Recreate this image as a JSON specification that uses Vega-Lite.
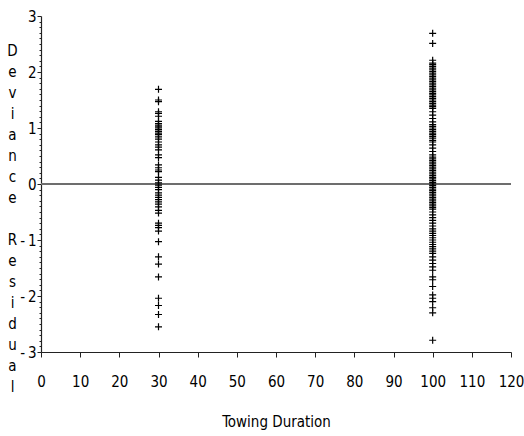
{
  "$schema": "https://vega.github.io/schema/vega-lite/v6.json",
  "autosize": {"type": "none"},
  "padding": {"left": 41, "top": 16, "right": 13, "bottom": 84},
  "width": 470,
  "height": 336,
  "background": "white",
  "config": {
    "view": {"stroke": null},
    "font": "Liberation Sans Narrow, DejaVu Sans Condensed, Liberation Mono",
    "axis": {"labelFont": "Liberation Sans Narrow, DejaVu Sans Condensed, Liberation Mono", "titleFont": "Liberation Sans Narrow, DejaVu Sans Condensed, Liberation Mono", "labelFontSize": 15, "titleFontSize": 15, "labelColor": "#000", "titleColor": "#000", "titleFontWeight": "normal", "domainColor": "#222", "tickColor": "#222", "grid": false},
    "axisY": {"labelOverlap": false}
  },
  "data": {"values": [
    {"d":30,"r":1.69},{"d":30,"r":1.50},{"d":30,"r":1.47},{"d":30,"r":1.29},{"d":30,"r":1.26},{"d":30,"r":1.21},
    {"d":30,"r":1.12},{"d":30,"r":1.08},{"d":30,"r":1.05},{"d":30,"r":1.02},{"d":30,"r":1.00},{"d":30,"r":0.97},
    {"d":30,"r":0.94},{"d":30,"r":0.91},{"d":30,"r":0.88},{"d":30,"r":0.84},{"d":30,"r":0.80},{"d":30,"r":0.75},
    {"d":30,"r":0.70},{"d":30,"r":0.66},{"d":30,"r":0.61},{"d":30,"r":0.52},{"d":30,"r":0.47},{"d":30,"r":0.34},
    {"d":30,"r":0.29},{"d":30,"r":0.25},{"d":30,"r":0.22},{"d":30,"r":0.12},{"d":30,"r":0.07},{"d":30,"r":0.02},
    {"d":30,"r":-0.02},{"d":30,"r":-0.06},{"d":30,"r":-0.10},{"d":30,"r":-0.16},{"d":30,"r":-0.20},{"d":30,"r":-0.24},
    {"d":30,"r":-0.28},{"d":30,"r":-0.32},{"d":30,"r":-0.36},{"d":30,"r":-0.41},{"d":30,"r":-0.47},{"d":30,"r":-0.52},
    {"d":30,"r":-0.70},{"d":30,"r":-0.74},{"d":30,"r":-0.78},{"d":30,"r":-0.84},{"d":30,"r":-1.03},{"d":30,"r":-1.30},
    {"d":30,"r":-1.43},{"d":30,"r":-1.66},{"d":30,"r":-2.04},{"d":30,"r":-2.17},{"d":30,"r":-2.33},{"d":30,"r":-2.55},
    {"d":100,"r":2.69},{"d":100,"r":2.51},{"d":100,"r":2.21},{"d":100,"r":2.16},{"d":100,"r":2.13},{"d":100,"r":2.10},
    {"d":100,"r":2.07},{"d":100,"r":2.04},{"d":100,"r":2.01},{"d":100,"r":1.98},{"d":100,"r":1.95},{"d":100,"r":1.92},
    {"d":100,"r":1.89},{"d":100,"r":1.86},{"d":100,"r":1.83},{"d":100,"r":1.80},{"d":100,"r":1.77},{"d":100,"r":1.74},
    {"d":100,"r":1.71},{"d":100,"r":1.68},{"d":100,"r":1.65},{"d":100,"r":1.62},{"d":100,"r":1.59},{"d":100,"r":1.56},
    {"d":100,"r":1.53},{"d":100,"r":1.50},{"d":100,"r":1.47},{"d":100,"r":1.44},{"d":100,"r":1.41},{"d":100,"r":1.38},
    {"d":100,"r":1.35},{"d":100,"r":1.29},{"d":100,"r":1.23},{"d":100,"r":1.17},{"d":100,"r":1.11},{"d":100,"r":1.06},
    {"d":100,"r":1.03},{"d":100,"r":1.00},{"d":100,"r":0.97},{"d":100,"r":0.94},{"d":100,"r":0.91},{"d":100,"r":0.88},
    {"d":100,"r":0.85},{"d":100,"r":0.82},{"d":100,"r":0.78},{"d":100,"r":0.75},{"d":100,"r":0.70},{"d":100,"r":0.64},
    {"d":100,"r":0.58},{"d":100,"r":0.52},{"d":100,"r":0.48},{"d":100,"r":0.45},{"d":100,"r":0.42},{"d":100,"r":0.39},
    {"d":100,"r":0.36},{"d":100,"r":0.33},{"d":100,"r":0.30},{"d":100,"r":0.27},{"d":100,"r":0.24},{"d":100,"r":0.21},
    {"d":100,"r":0.18},{"d":100,"r":0.15},{"d":100,"r":0.12},{"d":100,"r":0.09},{"d":100,"r":0.06},{"d":100,"r":0.03},
    {"d":100,"r":0.00},{"d":100,"r":-0.03},{"d":100,"r":-0.06},{"d":100,"r":-0.09},{"d":100,"r":-0.12},{"d":100,"r":-0.15},
    {"d":100,"r":-0.18},{"d":100,"r":-0.21},{"d":100,"r":-0.24},{"d":100,"r":-0.27},{"d":100,"r":-0.30},{"d":100,"r":-0.33},
    {"d":100,"r":-0.36},{"d":100,"r":-0.39},{"d":100,"r":-0.42},{"d":100,"r":-0.45},{"d":100,"r":-0.50},{"d":100,"r":-0.55},
    {"d":100,"r":-0.60},{"d":100,"r":-0.65},{"d":100,"r":-0.70},{"d":100,"r":-0.75},{"d":100,"r":-0.80},{"d":100,"r":-0.84},
    {"d":100,"r":-0.88},{"d":100,"r":-0.92},{"d":100,"r":-0.96},{"d":100,"r":-1.00},{"d":100,"r":-1.04},{"d":100,"r":-1.08},
    {"d":100,"r":-1.12},{"d":100,"r":-1.16},{"d":100,"r":-1.20},{"d":100,"r":-1.24},{"d":100,"r":-1.30},{"d":100,"r":-1.36},
    {"d":100,"r":-1.42},{"d":100,"r":-1.48},{"d":100,"r":-1.54},{"d":100,"r":-1.66},{"d":100,"r":-1.71},{"d":100,"r":-1.83},
    {"d":100,"r":-1.98},{"d":100,"r":-2.04},{"d":100,"r":-2.10},{"d":100,"r":-2.21},{"d":100,"r":-2.30},{"d":100,"r":-2.79}
  ]},
  "layer": [
    {
      "mark": {"type": "rule", "color": "#6e6e6e", "strokeWidth": 1.5},
      "encoding": {"y": {"datum": 0, "type": "quantitative", "scale": {"domain": [-3, 3], "nice": false, "zero": false},
          "axis": {
            "values": [-3,-2.9,-2.8,-2.7,-2.6,-2.5,-2.4,-2.3,-2.2,-2.1,-2,-1.9,-1.8,-1.7,-1.6,-1.5,-1.4,-1.3,-1.2,-1.1,-1,-0.9,-0.8,-0.7,-0.6,-0.5,-0.4,-0.3,-0.2,-0.1,0,0.1,0.2,0.3,0.4,0.5,0.6,0.7,0.8,0.9,1,1.1,1.2,1.3,1.4,1.5,1.6,1.7,1.8,1.9,2,2.1,2.2,2.3,2.4,2.5,2.6,2.7,2.8,2.9,3],
            "labelExpr": "abs(datum.value - round(datum.value)) < 0.001 ? (datum.value < 0 ? '-\u2009' + abs(round(datum.value)) : '' + round(datum.value)) : ''",
            "labelOverlap": false,
            "labelPadding": 1,
            "labelBaseline": "middle",
            "tickSize": {"condition": {"test": "abs(datum.value - round(datum.value)) < 0.001", "value": 4}, "value": 2},
            "domainWidth": 1.2,
            "title": ["D","e","v","i","a","n","c","e","\u2800","R","e","s","i","d","u","a","l"],
            "titleAngle": 0,
            "titleAlign": "center",
            "titleBaseline": "middle",
            "titleLineHeight": 21,
            "titleX": -29,
            "titleY": 34
          }}}
    },
    {
      "mark": {"type": "point", "shape": "M-1,0H1M0,-1V1", "filled": false, "stroke": "#000", "strokeWidth": 1.2, "size": 49, "opacity": 1},
      "encoding": {
        "x": {"field": "d", "type": "quantitative", "scale": {"domain": [0, 120], "nice": false},
          "axis": {"values": [0,10,20,30,40,50,60,70,80,90,100,110,120], "tickSize": 5, "labelPadding": 17, "labelFlush": false, "labelOverlap": false, "title": "Towing Duration", "titlePadding": 25, "domainWidth": 1.2}},
        "y": {"field": "r", "type": "quantitative", "scale": {"domain": [-3, 3], "nice": false, "zero": false},
          "axis": {
            "values": [-3,-2.9,-2.8,-2.7,-2.6,-2.5,-2.4,-2.3,-2.2,-2.1,-2,-1.9,-1.8,-1.7,-1.6,-1.5,-1.4,-1.3,-1.2,-1.1,-1,-0.9,-0.8,-0.7,-0.6,-0.5,-0.4,-0.3,-0.2,-0.1,0,0.1,0.2,0.3,0.4,0.5,0.6,0.7,0.8,0.9,1,1.1,1.2,1.3,1.4,1.5,1.6,1.7,1.8,1.9,2,2.1,2.2,2.3,2.4,2.5,2.6,2.7,2.8,2.9,3],
            "labelExpr": "abs(datum.value - round(datum.value)) < 0.001 ? (datum.value < 0 ? '-\u2009' + abs(round(datum.value)) : '' + round(datum.value)) : ''",
            "labelOverlap": false,
            "labelPadding": 1,
            "labelBaseline": "middle",
            "tickSize": {"condition": {"test": "abs(datum.value - round(datum.value)) < 0.001", "value": 4}, "value": 2},
            "domainWidth": 1.2,
            "title": ["D","e","v","i","a","n","c","e","\u2800","R","e","s","i","d","u","a","l"],
            "titleAngle": 0,
            "titleAlign": "center",
            "titleBaseline": "middle",
            "titleLineHeight": 21,
            "titleX": -29,
            "titleY": 34
          }}
      }
    }
  ]
}
